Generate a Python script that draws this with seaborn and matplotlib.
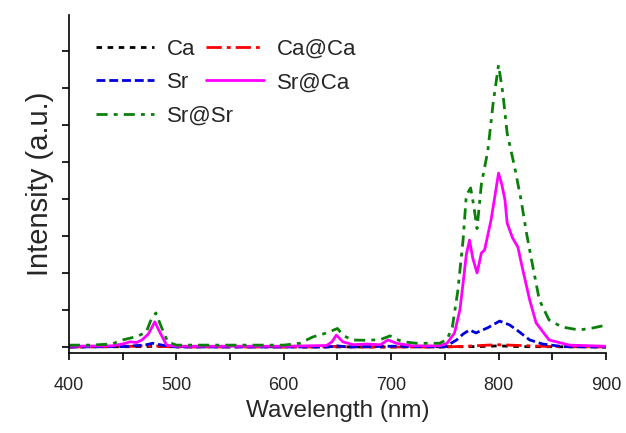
import numpy as np
import pandas as pd
import seaborn as sns
import matplotlib.pyplot as plt
from matplotlib.ticker import MultipleLocator, NullFormatter

# Emission spectra (intensity in a.u.)
ca_x = [400, 470, 480, 490, 700, 780, 800, 820, 900]
ca_y = [0.0, 0.01, 0.02, 0.01, 0.0, 0.01, 0.03, 0.01, 0.0]

caca_x = [400, 460, 470, 480, 490, 500, 640, 650, 660, 750, 770, 790, 800, 810, 830, 850, 900]
caca_y = [0.0, 0.02, 0.03, 0.03, 0.01, 0.0, 0.0, 0.02, 0.0, 0.0, 0.02, 0.05, 0.06, 0.05, 0.03, 0.01, 0.0]

sr_x = [400, 450, 465, 472, 478, 485, 492, 500, 640, 650, 660, 700, 750, 761, 767,
        773, 779, 790, 801, 810, 817, 829, 841, 860, 900]
sr_y = [0.0, 0.01, 0.04, 0.06, 0.10, 0.06, 0.02, 0.0, 0.0, 0.03, 0.0, 0.02, 0.0, 0.19, 0.35,
        0.46, 0.38, 0.52, 0.70, 0.60, 0.46, 0.19, 0.08, 0.01, 0.0]

srca_x = [400, 440, 450, 457, 463, 468, 474, 480, 485, 491, 500, 600, 640, 645, 649, 655,
          665, 677, 690, 697, 705, 720, 745, 752, 759, 764, 767, 770, 773, 776, 780, 784,
          787, 793, 796, 800, 803, 806, 808, 813, 818, 822, 829, 835, 847, 866, 900]
srca_y = [0.02, 0.03, 0.08, 0.14, 0.12, 0.19, 0.35, 0.68, 0.38, 0.05, 0.02, 0.02, 0.04, 0.14, 0.32, 0.14,
          0.06, 0.08, 0.06, 0.19, 0.10, 0.03, 0.03, 0.10, 0.38, 1.0, 1.73, 2.5, 2.89, 2.4, 2.0, 2.54,
          2.62, 3.43, 3.97, 4.70, 4.4, 3.97, 3.35, 2.95, 2.7, 2.16, 1.27, 0.65, 0.19, 0.05, 0.02]

srsr_x = [400, 420, 440, 450, 460, 466, 472, 476, 481, 486, 492, 500, 550, 600, 615, 627,
          640, 650, 656, 664, 677, 690, 699, 704, 711, 724, 745, 752, 757, 762, 767, 770,
          774, 777, 780, 784, 790, 795, 800, 804, 808, 815, 821, 826, 832, 838, 847, 859,
          875, 887, 900]
srsr_y = [0.05, 0.05, 0.08, 0.19, 0.26, 0.32, 0.40, 0.70, 0.92, 0.55, 0.14, 0.05, 0.05, 0.05, 0.10, 0.27,
          0.38, 0.50, 0.30, 0.19, 0.18, 0.20, 0.30, 0.22, 0.14, 0.10, 0.10, 0.20, 0.54, 1.5, 2.9, 4.1,
          4.3, 3.8, 3.2, 4.4, 5.3, 6.6, 7.62, 6.86, 5.78, 4.86, 3.97, 3.08, 2.16, 1.27, 0.73, 0.54,
          0.46, 0.51, 0.59]

names = ["Ca", "Ca@Ca", "Sr", "Sr@Ca", "Sr@Sr"]
xs = [ca_x, caca_x, sr_x, srca_x, srsr_x]
ys = [ca_y, caca_y, sr_y, srca_y, srsr_y]

df = pd.concat(
    [pd.DataFrame({"wl": x, "I": y, "sample": n}) for n, x, y in zip(names, xs, ys)],
    ignore_index=True,
)

colors = {"Ca": "black", "Ca@Ca": "#ff0000", "Sr": "#0000dd",
          "Sr@Ca": "#ff00ff", "Sr@Sr": "#0a800a"}
dashes = {"Ca": (2.0, 2.0), "Ca@Ca": (5.5, 1.8, 1.4, 1.8), "Sr": (3.2, 1.4),
          "Sr@Ca": "", "Sr@Sr": (4.0, 2.2, 1.4, 2.2)}

sns.set_style("ticks")
plt.rcParams["font.family"] = ["Liberation Sans", "DejaVu Sans"]

fig = plt.figure(figsize=(6.26, 4.33), dpi=100)
ax = fig.add_axes([0.110, 0.185, 0.858, 0.780])

sns.lineplot(data=df, x="wl", y="I", hue="sample", style="sample",
             palette=colors, dashes=dashes, estimator=None, sort=False,
             linewidth=2.0, ax=ax, legend=True)

ax.set_xlim(400, 900)
ax.set_ylim(-0.16, 8.97)
ax.xaxis.set_major_locator(MultipleLocator(100))
ax.xaxis.set_minor_locator(MultipleLocator(50))
ax.yaxis.set_major_locator(MultipleLocator(1))
ax.yaxis.set_major_formatter(NullFormatter())
ax.tick_params(axis="both", which="both", direction="out", length=5, width=1.2,
               labelsize=13, color="black")
ax.tick_params(axis="x", which="major", pad=12)
for s in ["left", "bottom"]:
    ax.spines[s].set_linewidth(1.2)
    ax.spines[s].set_color("black")
sns.despine(ax=ax)

ax.set_xlabel("Wavelength (nm)", fontsize=17.5, labelpad=5)
ax.set_ylabel("Intensity (a.u.)", fontsize=21, labelpad=2)

handles, labels = ax.get_legend_handles_labels()
hmap = dict(zip(labels, handles))
ax.get_legend().remove()

leg_kw = dict(frameon=False, fontsize=16, handlelength=2.6, handletextpad=0.6,
              labelspacing=0.55, borderpad=0, borderaxespad=0, loc="upper left")
leg1 = ax.legend([hmap[k] for k in ["Ca", "Sr", "Sr@Sr"]], ["Ca", "Sr", "Sr@Sr"],
                 bbox_to_anchor=(96 / 626, 1 - 39 / 433), bbox_transform=fig.transFigure, **leg_kw)
ax.add_artist(leg1)
ax.legend([hmap[k] for k in ["Ca@Ca", "Sr@Ca"]], ["Ca@Ca", "Sr@Ca"],
          bbox_to_anchor=(206 / 626, 1 - 39 / 433), bbox_transform=fig.transFigure, **leg_kw)

fig.savefig("out.png", dpi=100)
